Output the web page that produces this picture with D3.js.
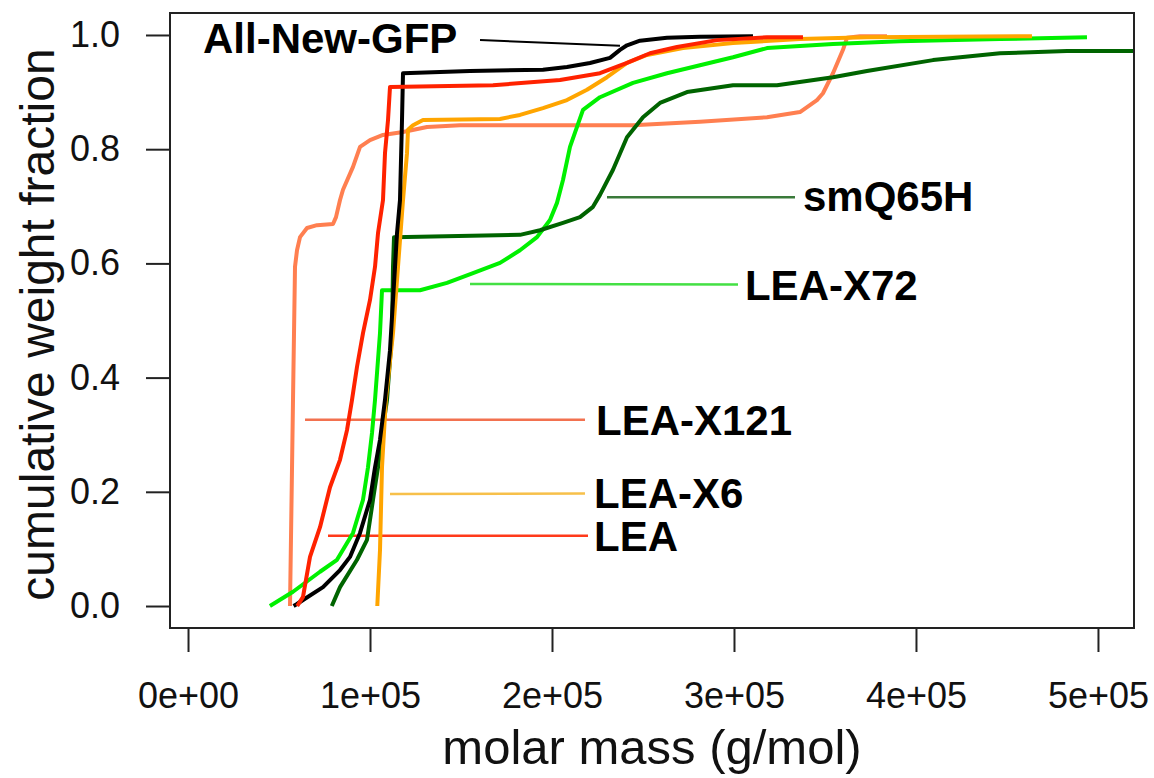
<!DOCTYPE html>
<html>
<head>
<meta charset="utf-8">
<script src="https://cdn.jsdelivr.net/npm/d3@7"></script>
<style>
  html, body { margin: 0; padding: 0; background: #fff; }
  svg { display: block; font-family: "Liberation Sans", Arial, Helvetica, sans-serif; }
</style>
</head>
<body>
<svg width="1154" height="778"></svg>
<script>
// cumulative weight fraction vs molar mass, one [mass, fraction] list per sample
const allNewGFP = [
  [58000, 0], [59890, 0.0035], [63190, 0.0105], [74180, 0.033], [83520, 0.063], [89010, 0.086],
  [94510, 0.128], [100000, 0.186], [102750, 0.243], [105490, 0.291], [108240, 0.361], [110990, 0.448],
  [113740, 0.594], [114840, 0.653], [116480, 0.711], [117580, 0.851], [118130, 0.933], [154900, 0.937],
  [195050, 0.939], [208240, 0.944], [220880, 0.951], [231870, 0.960], [237360, 0.974], [241210, 0.982],
  [248350, 0.990], [263190, 0.995], [281320, 0.997], [310440, 0.998]
];
const lea = [
  [60000, 0], [63190, 0.016], [67030, 0.086], [72530, 0.138], [78020, 0.208], [83520, 0.256],
  [87360, 0.308], [90110, 0.361], [92860, 0.419], [96150, 0.478], [100000, 0.536], [102750, 0.594],
  [104400, 0.653], [107140, 0.711], [108240, 0.793], [109890, 0.851], [110990, 0.909], [167580, 0.912],
  [204400, 0.921], [226370, 0.933], [241210, 0.951], [253850, 0.968], [268680, 0.979], [290660, 0.991],
  [318130, 0.996], [337910, 0.996]
];
const leaX6 = [
  [104000, 0], [105490, 0.098], [106590, 0.243], [108700, 0.361], [112640, 0.478], [115380, 0.594],
  [118130, 0.711], [120330, 0.793], [120880, 0.834], [123630, 0.842], [129120, 0.851], [171430, 0.853],
  [182420, 0.860], [195050, 0.872], [208240, 0.886], [219230, 0.904], [230220, 0.926], [241210, 0.951],
  [252200, 0.965], [271980, 0.977], [299450, 0.986], [336260, 0.993], [373080, 0.996], [463740, 0.998]
];
const leaX121 = [
  [56040, 0], [57690, 0.361], [58790, 0.594], [59890, 0.623], [61540, 0.646], [65380, 0.662],
  [70880, 0.667], [79670, 0.669], [81320, 0.681], [83520, 0.711], [85160, 0.729], [90660, 0.769],
  [94510, 0.804], [100000, 0.816], [107140, 0.825], [118130, 0.830], [131320, 0.839], [149450, 0.842],
  [244510, 0.842], [281320, 0.848], [318130, 0.856], [336260, 0.865], [345600, 0.886], [348900, 0.898],
  [354400, 0.933], [359890, 0.974], [362090, 0.995], [369230, 0.998], [384070, 0.998]
];
const leaX72 = [
  [45000, 0], [57690, 0.025], [72530, 0.060], [81870, 0.081], [90660, 0.128], [96150, 0.186],
  [98900, 0.243], [101100, 0.303], [102750, 0.361], [105490, 0.478], [106590, 0.553], [127470, 0.553],
  [142310, 0.566], [156590, 0.583], [171430, 0.601], [182420, 0.623], [191760, 0.646], [198900, 0.676],
  [202750, 0.706], [206040, 0.746], [209890, 0.804], [213740, 0.839], [217030, 0.869], [226370, 0.891],
  [244510, 0.916], [263190, 0.933], [281320, 0.947], [299450, 0.961], [318130, 0.977], [354400, 0.984],
  [391210, 0.989], [446150, 0.993], [493960, 0.996]
];
const smQ65H = [
  [79000, 0], [83520, 0.033], [92860, 0.081], [98350, 0.116], [101650, 0.186], [104400, 0.243],
  [107140, 0.313], [109340, 0.361], [112090, 0.478], [112640, 0.594], [113190, 0.646], [182420, 0.650],
  [193410, 0.658], [206040, 0.671], [215380, 0.681], [222530, 0.699], [226370, 0.720], [233520, 0.764],
  [241210, 0.821], [250000, 0.856], [259340, 0.881], [274180, 0.900], [299450, 0.912], [323630, 0.912],
  [354400, 0.926], [373080, 0.937], [409340, 0.956], [446150, 0.968], [482970, 0.972], [523080, 0.972]
];

const seriesNames = ["LEA-X121", "LEA-X72", "smQ65H", "LEA-X6", "All-New-GFP", "LEA"];
const seriesData = [leaX121, leaX72, smQ65H, leaX6, allNewGFP, lea];
const seriesColors = ["#ff7f50", "#00f000", "#006400", "#ffa500", "#000000", "#ff2200"];
const pointerColors = ["#f2714f", "#44e044", "#3a7a3a", "#f7c04a", "#000000", "#ff3a1a"];

// label pointer segments [x0, x1, y0, y1] and text anchor [x, y], in data units
const pointers = [
  [64290, 218130, 0.326, 0.326],
  [154950, 302200, 0.564, 0.563],
  [230220, 333520, 0.716, 0.716],
  [110990, 218130, 0.196, 0.197],
  [160440, 237360, 0.991, 0.981],
  [76920, 219780, 0.123, 0.123]
];
const labelAt = [
  [224180, 0.326], [306040, 0.562], [337910, 0.718], [223080, 0.198], [8240, 0.995], [223080, 0.123]
];

const xTicks = [0, 1e5, 2e5, 3e5, 4e5, 5e5];
const xTickLabels = ["0e+00", "1e+05", "2e+05", "3e+05", "4e+05", "5e+05"];
const yTicks = [0, 0.2, 0.4, 0.6, 0.8, 1.0];
const yTickLabels = ["0.0", "0.2", "0.4", "0.6", "0.8", "1.0"];

const box = { left: 170, right: 1134, top: 13, bottom: 628 };

const svg = d3.select("svg");

const x = d3.scaleLinear().domain([-9900, 519800]).range([box.left, box.right]);
const y = d3.scaleLinear().domain([-0.0385, 1.0385]).range([box.bottom, box.top]);

svg.append("clipPath").attr("id", "plot-clip")
  .append("rect")
  .attr("x", box.left).attr("y", box.top)
  .attr("width", box.right - box.left).attr("height", box.bottom - box.top);

const line = d3.line()
  .x((d) => x(d[0]))
  .y((d) => y(d[1]));

const plot = svg.append("g").attr("clip-path", "url(#plot-clip)");

// pointer lines first, curves on top
plot.selectAll(".pointer")
  .data(pointers)
  .join("line")
  .attr("class", "pointer")
  .attr("x1", (d) => x(d[0]))
  .attr("x2", (d) => x(d[1]))
  .attr("y1", (d) => y(d[2]))
  .attr("y2", (d) => y(d[3]))
  .attr("stroke", (d, i) => pointerColors[i])
  .attr("stroke-width", (d, i) => i === 4 ? 2 : 2.5);

plot.selectAll(".curve")
  .data(seriesData)
  .join("path")
  .attr("class", "curve")
  .attr("fill", "none")
  .attr("stroke", (d, i) => seriesColors[i])
  .attr("stroke-width", 4)
  .attr("stroke-linejoin", "round")
  .attr("d", line);

svg.selectAll(".label")
  .data(labelAt)
  .join("text")
  .attr("class", "label")
  .attr("x", (d) => x(d[0]))
  .attr("y", (d) => y(d[1]) + 15)
  .attr("font-size", 42)
  .attr("font-weight", "bold")
  .attr("fill", "#000")
  .text((d, i) => seriesNames[i]);

// axes, R style: ticks outside, no domain line (box covers it)
const xAxis = svg.append("g")
  .attr("transform", `translate(0,${box.bottom})`)
  .call(d3.axisBottom(x).tickValues(xTicks).tickSize(24).tickPadding(30)
    .tickFormat((d, i) => xTickLabels[i]));
xAxis.select(".domain").remove();
xAxis.selectAll("line").attr("stroke", "#222").attr("stroke-width", 2);
xAxis.selectAll("text").attr("font-size", 36).attr("fill", "#111")
  .attr("font-family", "Liberation Sans, Arial, sans-serif");

const yAxis = svg.append("g")
  .attr("transform", `translate(${box.left},0)`)
  .call(d3.axisLeft(y).tickValues(yTicks).tickSize(24).tickPadding(26)
    .tickFormat((d, i) => yTickLabels[i]));
yAxis.select(".domain").remove();
yAxis.selectAll("line").attr("stroke", "#222").attr("stroke-width", 2);
yAxis.selectAll("text").attr("font-size", 36).attr("fill", "#111")
  .attr("font-family", "Liberation Sans, Arial, sans-serif");

svg.append("rect")
  .attr("x", box.left).attr("y", box.top)
  .attr("width", box.right - box.left).attr("height", box.bottom - box.top)
  .attr("fill", "none")
  .attr("stroke", "#222")
  .attr("stroke-width", 2);

svg.append("text")
  .attr("x", (box.left + box.right) / 2)
  .attr("y", 764)
  .attr("text-anchor", "middle")
  .attr("font-size", 49)
  .attr("fill", "#111")
  .text("molar mass (g/mol)");

svg.append("text")
  .attr("transform", `translate(54,${(box.top + box.bottom) / 2 + 4}) rotate(-90)`)
  .attr("text-anchor", "middle")
  .attr("font-size", 48)
  .attr("fill", "#111")
  .text("cumulative weight fraction");
</script>
</body>
</html>
